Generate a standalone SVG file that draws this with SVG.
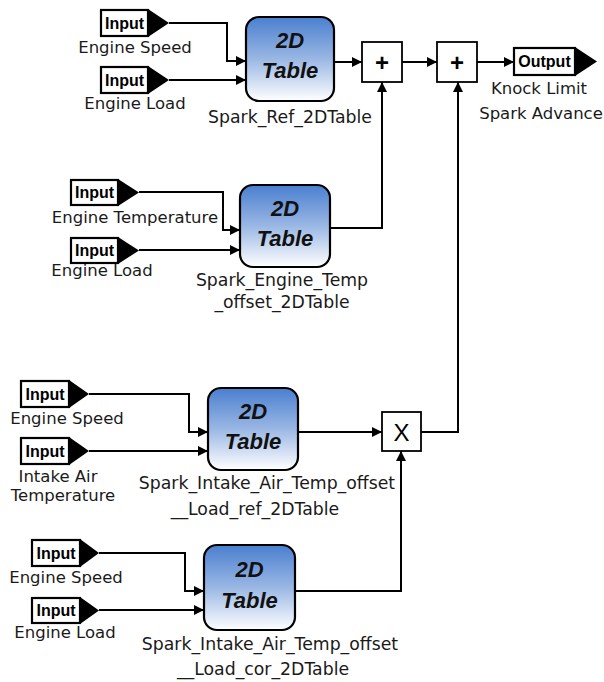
<svg xmlns="http://www.w3.org/2000/svg" width="604" height="682" viewBox="0 0 604 682">
<defs>
<linearGradient id="tg" x1="0" y1="0" x2="0" y2="1">
<stop offset="0" stop-color="#4a7fcf"/>
<stop offset="0.5" stop-color="#9ab7e4"/>
<stop offset="1" stop-color="#ffffff"/>
</linearGradient>
<marker id="ar" viewBox="0 0 10 10" refX="10" refY="5" markerWidth="10" markerHeight="10" markerUnits="userSpaceOnUse" orient="auto">
<path d="M0 0 L10 5 L0 10 Z" fill="#000"/>
</marker>
</defs>
<style>
.io rect{fill:#fff;stroke:#000;stroke-width:2.2}
.io path{fill:#000}
.io text{font-family:"Liberation Sans",Arial,sans-serif;font-weight:bold;font-size:16px;fill:#000;text-anchor:middle}
.tbl rect{fill:url(#tg);stroke:#000;stroke-width:2.2}
.tbl text.t{font-family:"Liberation Sans",Arial,sans-serif;font-weight:bold;font-style:italic;font-size:22px;fill:#111;text-anchor:middle}
.op rect{fill:#fff;stroke:#000;stroke-width:1.8}
.op text{font-family:"Liberation Sans",Arial,sans-serif;font-size:24px;fill:#000;text-anchor:middle}
g text.lbl{font-family:"DejaVu Sans",sans-serif;font-weight:normal;font-size:16.5px;fill:#1a1a1a;text-anchor:middle}
g text.tl{font-size:17.3px}
.c path{fill:none;stroke:#000;stroke-width:2;marker-end:url(#ar)}
</style>
<rect width="604" height="682" fill="#fff"/>

<g class="c" id="connectors">
<path d="M169 23 H227 V61 H246"/>
<path d="M169 80 H246"/>
<path d="M334 62 H362"/>
<path d="M402 62 H437"/>
<path d="M477 62 H514"/>
<path d="M139 192 H223 V230 H240"/>
<path d="M139 250 H240"/>
<path d="M330 228 H382 V82"/>
<path d="M89 394 H189 V432 H208"/>
<path d="M89 451 H208"/>
<path d="M298 432 H382"/>
<path d="M421 432 H458 V82"/>
<path d="M99 553 H185 V591 H204"/>
<path d="M99 610 H204"/>
<path d="M295 591 H401 V451"/>
</g>

<g class="io" id="in_a1">
<rect x="101" y="10" width="47" height="26"/><path d="M148 9 L169 23 L148 37 Z"/>
<text x="124.5" y="29">Input</text>
<text class="lbl" x="135" y="53">Engine Speed</text>
</g>
<g class="io" id="in_a2">
<rect x="101" y="67" width="47" height="26"/><path d="M148 66 L169 80 L148 94 Z"/>
<text x="124.5" y="86">Input</text>
<text class="lbl" x="135" y="109">Engine Load</text>
</g>
<g class="tbl" id="tbl_a">
<rect x="246" y="17" width="88" height="84" rx="13"/>
<text class="t" x="290" y="48">2D</text>
<text class="t" x="290" y="78">Table</text>
<text class="lbl tl" x="290" y="123">Spark_Ref_2DTable</text>
</g>
<g class="op" id="sum1">
<rect x="362" y="42" width="40" height="40"/>
<text x="382" y="71" font-weight="bold" font-size="27">+</text>
</g>
<g class="op" id="sum2">
<rect x="437" y="42" width="40" height="40"/>
<text x="457" y="71" font-weight="bold" font-size="27">+</text>
</g>
<g class="io" id="out">
<rect x="514" y="48" width="61" height="27"/><path d="M575 47 L597 61.5 L575 76 Z"/>
<text x="544.5" y="67">Output</text>
<text class="lbl" x="539" y="94">Knock Limit</text>
<text class="lbl" x="541" y="119">Spark Advance</text>
</g>

<g class="io" id="in_b1">
<rect x="71" y="180" width="47" height="25"/><path d="M118 179 L139 192.5 L118 206 Z"/>
<text x="94.5" y="198">Input</text>
<text class="lbl" x="135" y="223">Engine Temperature</text>
</g>
<g class="io" id="in_b2">
<rect x="71" y="238" width="47" height="25"/><path d="M118 237 L139 250.5 L118 264 Z"/>
<text x="94.5" y="256">Input</text>
<text class="lbl" x="102" y="276">Engine Load</text>
</g>
<g class="tbl" id="tbl_b">
<rect x="240" y="185" width="90" height="82" rx="13"/>
<text class="t" x="285" y="216">2D</text>
<text class="t" x="285" y="246">Table</text>
<text class="lbl tl" x="282" y="286">Spark_Engine_Temp</text>
<text class="lbl tl" x="282" y="308">_offset_2DTable</text>
</g>

<g class="io" id="in_c1">
<rect x="21" y="381" width="48" height="26"/><path d="M69 380 L89 394 L69 408 Z"/>
<text x="45" y="400">Input</text>
<text class="lbl" x="67" y="424">Engine Speed</text>
</g>
<g class="io" id="in_c2">
<rect x="21" y="438" width="48" height="26"/><path d="M69 437 L89 451 L69 465 Z"/>
<text x="45" y="457">Input</text>
<text class="lbl" x="58" y="482">Intake Air</text>
<text class="lbl" x="63" y="501">Temperature</text>
</g>
<g class="tbl" id="tbl_c">
<rect x="208" y="388" width="90" height="82" rx="13"/>
<text class="t" x="253" y="419">2D</text>
<text class="t" x="253" y="449">Table</text>
<text class="lbl tl" x="267" y="489">Spark_Intake_Air_Temp_offset</text>
<text class="lbl tl" x="255" y="515">__Load_ref_2DTable</text>
</g>
<g class="op" id="mul">
<rect x="382" y="412" width="39" height="39"/>
<text x="401.5" y="440.5">X</text>
</g>

<g class="io" id="in_d1">
<rect x="32" y="540" width="48" height="26"/><path d="M80 539 L99 553 L80 567 Z"/>
<text x="56" y="559">Input</text>
<text class="lbl" x="66" y="583">Engine Speed</text>
</g>
<g class="io" id="in_d2">
<rect x="32" y="598" width="48" height="25"/><path d="M80 597 L99 610.5 L80 624 Z"/>
<text x="56" y="616">Input</text>
<text class="lbl" x="65" y="638">Engine Load</text>
</g>
<g class="tbl" id="tbl_d">
<rect x="204" y="545" width="91" height="85" rx="13"/>
<text class="t" x="249.5" y="577">2D</text>
<text class="t" x="249.5" y="608">Table</text>
<text class="lbl tl" x="270" y="650">Spark_Intake_Air_Temp_offset</text>
<text class="lbl tl" x="263" y="675">__Load_cor_2DTable</text>
</g>
</svg>
